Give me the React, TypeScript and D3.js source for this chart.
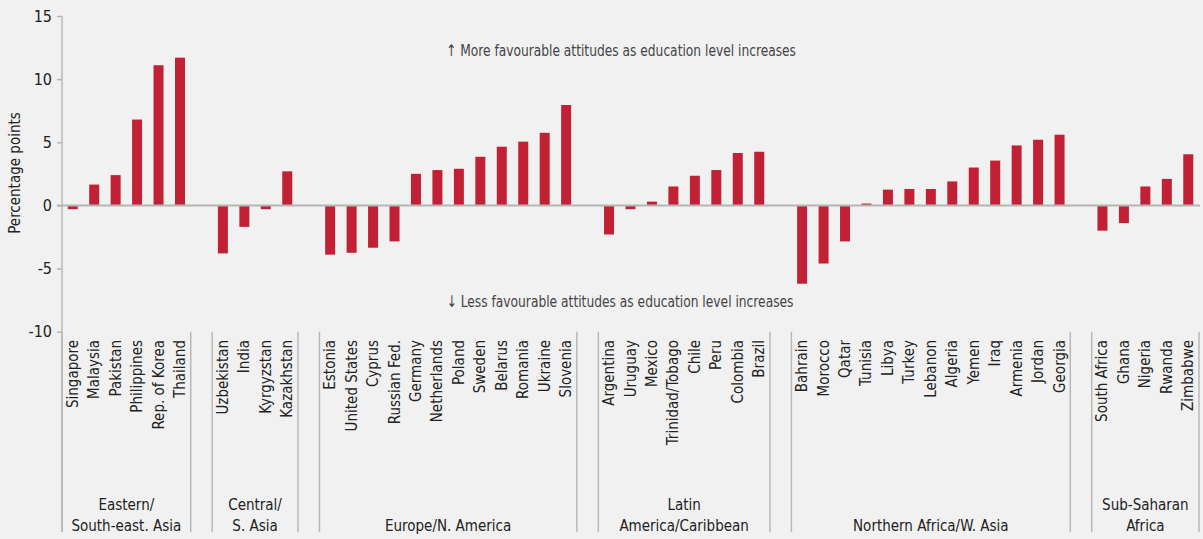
import { useEffect, useRef } from 'react';
import * as d3 from 'd3';

const regions = [
  ['Eastern/', 'South-east. Asia'],
  ['Central/', 'S. Asia'],
  ['Europe/N. America'],
  ['Latin', 'America/Caribbean'],
  ['Northern Africa/W. Asia'],
  ['Sub-Saharan', 'Africa'],
];

const eastAsia = ['Singapore', 'Malaysia', 'Pakistan', 'Philippines', 'Rep. of Korea', 'Thailand'];
const eastAsiaValues = [-0.3, 1.65, 2.4, 6.8, 11.1, 11.7];

const centralAsia = ['Uzbekistan', 'India', 'Kyrgyzstan', 'Kazakhstan'];
const centralAsiaValues = [-3.8, -1.7, -0.3, 2.7];

const europe = ['Estonia', 'United States', 'Cyprus', 'Russian Fed.', 'Germany', 'Netherlands', 'Poland', 'Sweden', 'Belarus', 'Romania', 'Ukraine', 'Slovenia'];
const europeValues = [-3.9, -3.75, -3.35, -2.85, 2.5, 2.8, 2.9, 3.85, 4.65, 5.05, 5.75, 7.95];

const latinAmerica = ['Argentina', 'Uruguay', 'Mexico', 'Trinidad/Tobago', 'Chile', 'Peru', 'Colombia', 'Brazil'];
const latinAmericaValues = [-2.3, -0.3, 0.3, 1.5, 2.35, 2.8, 4.15, 4.25];

const northAfrica = ['Bahrain', 'Morocco', 'Qatar', 'Tunisia', 'Libya', 'Turkey', 'Lebanon', 'Algeria', 'Yemen', 'Iraq', 'Armenia', 'Jordan', 'Georgia'];
const northAfricaValues = [-6.2, -4.6, -2.85, 0.15, 1.25, 1.3, 1.3, 1.9, 3.0, 3.55, 4.75, 5.2, 5.6];

const subSaharan = ['South Africa', 'Ghana', 'Nigeria', 'Rwanda', 'Zimbabwe'];
const subSaharanValues = [-2.0, -1.4, 1.5, 2.1, 4.05];

const yTicks = [-10, -5, 0, 5, 10, 15];

const countryGroups = [eastAsia, centralAsia, europe, latinAmerica, northAfrica, subSaharan];
const valueGroups = [eastAsiaValues, centralAsiaValues, europeValues, latinAmericaValues, northAfricaValues, subSaharanValues];

const FONT = '"DejaVu Sans Condensed", "Liberation Sans Narrow", Roboto, sans-serif';

const App = () => {
  const ref = useRef<SVGSVGElement>(null);

  useEffect(() => {
    const svg = d3.select(ref.current);
    svg.selectAll('*').remove();

    const width = 1203;
    const left = 62, right = 1199;
    const bottomLine = 532;

    // slots: countries plus one gap slot between regions
    const slots: string[] = [];
    const bars: { name: string; value: number }[] = [];
    countryGroups.forEach((g, gi) => {
      if (gi > 0) slots.push('__gap' + gi);
      g.forEach((c, i) => {
        slots.push(c);
        bars.push({ name: c, value: valueGroups[gi][i] });
      });
    });

    const x = d3.scaleBand<string>().domain(slots).range([left, right]).padding(0);
    const y = d3.scaleLinear().domain([-10, 15]).range([331.7, 16]);
    const barW = 10;
    const cx = (n: string) => (x(n) as number) + x.bandwidth() / 2;

    svg.append('rect').attr('width', width).attr('height', 539).attr('fill', '#f1f1f1');

    // y axis
    const yAxis = d3.axisLeft(y).tickValues(yTicks).tickSize(5).tickPadding(5).tickFormat(d => String(d));
    const gy = svg.append('g').attr('transform', `translate(${left},0)`).call(yAxis);
    gy.select('.domain').remove();
    gy.selectAll('line').attr('stroke', '#b5b5b5').attr('stroke-width', 1.5);
    gy.selectAll('text')
      .attr('fill', '#222')
      .style('font-family', FONT)
      .style('font-size', '16px');

    svg.append('text')
      .attr('transform', `translate(20,173) rotate(-90)`)
      .attr('text-anchor', 'middle')
      .attr('fill', '#222')
      .style('font-family', FONT)
      .style('font-size', '15px')
      .text('Percentage points');

    // region separators
    countryGroups.forEach((g, gi) => {
      const x0 = x(g[0]) as number;
      const x1 = (x(g[g.length - 1]) as number) + x.bandwidth();
      [x0, x1].forEach(xx => {
        svg.append('line')
          .attr('x1', xx).attr('x2', xx)
          .attr('y1', y(-10)).attr('y2', bottomLine)
          .attr('stroke', '#b8b8b8').attr('stroke-width', 1.5);
      });
      const t = svg.append('text')
        .attr('x', (x0 + x1) / 2)
        .attr('text-anchor', 'middle')
        .attr('fill', '#222')
        .style('font-family', FONT)
        .style('font-size', '15px');
      const lines = regions[gi];
      lines.forEach((l, li) => {
        t.append('tspan')
          .attr('x', (x0 + x1) / 2)
          .attr('y', 531 - (lines.length - 1 - li) * 21)
          .text(l);
      });
    });

    // axis line
    svg.append('line')
      .attr('x1', left).attr('x2', left)
      .attr('y1', y(15)).attr('y2', bottomLine)
      .attr('stroke', '#b8b8b8').attr('stroke-width', 1.5);

    // bars
    svg.append('g').selectAll('rect').data(bars).enter().append('rect')
      .attr('x', d => cx(d.name) - barW / 2)
      .attr('width', barW)
      .attr('y', d => y(Math.max(0, d.value)))
      .attr('height', d => Math.abs(y(d.value) - y(0)))
      .attr('fill', '#c22035');

    // zero line
    svg.append('line')
      .attr('x1', left - 5).attr('x2', right + 1)
      .attr('y1', y(0)).attr('y2', y(0))
      .attr('stroke', '#b5b5b5').attr('stroke-width', 2);

    // country labels
    svg.append('g').selectAll('text').data(bars).enter().append('text')
      .attr('transform', d => `translate(${cx(d.name) + 5},340) rotate(-90)`)
      .attr('text-anchor', 'end')
      .attr('fill', '#222')
      .style('font-family', FONT)
      .style('font-size', '15px')
      .text(d => d.name);

    // annotations
    const mid = 621;
    svg.append('text')
      .attr('x', mid).attr('y', 56)
      .attr('text-anchor', 'middle')
      .attr('fill', '#444')
      .attr('textLength', 350)
      .attr('lengthAdjust', 'spacingAndGlyphs')
      .style('font-family', FONT)
      .style('font-size', '16px')
      .text('\u2191 More favourable attitudes as education level increases');
    svg.append('text')
      .attr('x', mid - 1).attr('y', 307)
      .attr('text-anchor', 'middle')
      .attr('fill', '#444')
      .attr('textLength', 347)
      .attr('lengthAdjust', 'spacingAndGlyphs')
      .style('font-family', FONT)
      .style('font-size', '16px')
      .text('\u2193 Less favourable attitudes as education level increases');
  }, []);

  return (
    <div style={{ position: 'fixed', left: 0, top: 0 }}>
      <svg ref={ref} width={1203} height={539} style={{ display: 'block' }} />
    </div>
  );
};

export default App;
